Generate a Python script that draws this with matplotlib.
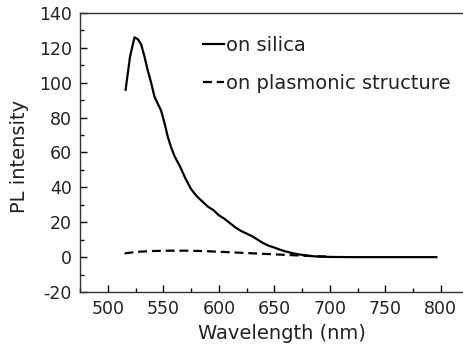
import matplotlib
matplotlib.use("Agg")
import matplotlib.pyplot as plt
from matplotlib.ticker import MultipleLocator

plt.rcParams['font.family'] = ['DejaVu Sans']
plt.rcParams['axes.unicode_minus'] = False

# silica PL spectrum (wavelength nm, intensity)
silica_wl = [516, 520, 524, 527, 530, 533, 536, 539, 542, 545, 548, 551, 554, 557, 560,
             565, 570, 575, 580, 585, 590, 595, 600, 605, 610, 615, 620, 625, 630, 635,
             640, 645, 650, 655, 660, 665, 670, 675, 680, 685, 690, 700, 720, 740, 760,
             780, 796]
silica_pl = [96, 115, 126, 125, 122, 115, 107, 100, 92, 88, 84, 77, 69, 63, 58,
             52, 45, 39, 35, 32, 29, 27, 24, 22, 19.5, 17, 15, 13.5, 12, 10,
             8, 6.5, 5.5, 4.3, 3.3, 2.5, 1.8, 1.3, 0.9, 0.5, 0.3, 0.1, 0, 0, 0,
             0, 0]

# plasmonic structure PL spectrum
plas_wl = [515, 525, 540, 555, 570, 585, 600, 620, 640, 660, 680, 700]
plas_pl = [2.1, 3.0, 3.5, 3.7, 3.7, 3.5, 3.1, 2.5, 1.9, 1.3, 0.7, 0.3]

xticks = [500, 550, 600, 650, 700, 750, 800]
yticks = [-20, 0, 20, 40, 60, 80, 100, 120, 140]

fig = plt.figure(figsize=(4.63, 3.49), dpi=100)
ax = fig.add_axes([0.173, 0.1633, 0.827, 0.7995])

ax.plot(silica_wl, silica_pl, color='black', lw=1.6, label='on silica')
ax.plot(plas_wl, plas_pl, color='black', lw=1.6, dashes=(4.0, 2.2),
        label='on plasmonic structure')

ax.set_xlim(475, 820)
ax.set_ylim(-20, 140)
ax.set_xticks(xticks)
ax.set_yticks(yticks)
ax.xaxis.set_minor_locator(MultipleLocator(25))
ax.yaxis.set_minor_locator(MultipleLocator(10))
ax.tick_params(which='major', direction='in', length=5, width=1, labelsize=12.5,
               pad=6, labelcolor='#222222')
ax.tick_params(which='minor', direction='in', length=3, width=1)
ax.spines['right'].set_visible(False)
for s in ['left', 'bottom', 'top']:
    ax.spines[s].set_linewidth(1.0)
    ax.spines[s].set_color('#333333')

ax.set_xlabel('Wavelength (nm)', fontsize=14, labelpad=4, color='#222222')
ax.xaxis.set_label_coords(0.527, -0.115)
ax.set_ylabel('PL intensity', fontsize=14, color='#222222')
ax.yaxis.set_label_coords(-0.133, 0.485)

leg = ax.legend(loc='upper left', bbox_to_anchor=(0.30, 0.945), frameon=False,
                fontsize=14, handlelength=1.1, handletextpad=0.08,
                labelspacing=0.95, borderaxespad=0)
for t in leg.get_texts():
    t.set_color('#222222')

fig.savefig('out.png', dpi=100)
